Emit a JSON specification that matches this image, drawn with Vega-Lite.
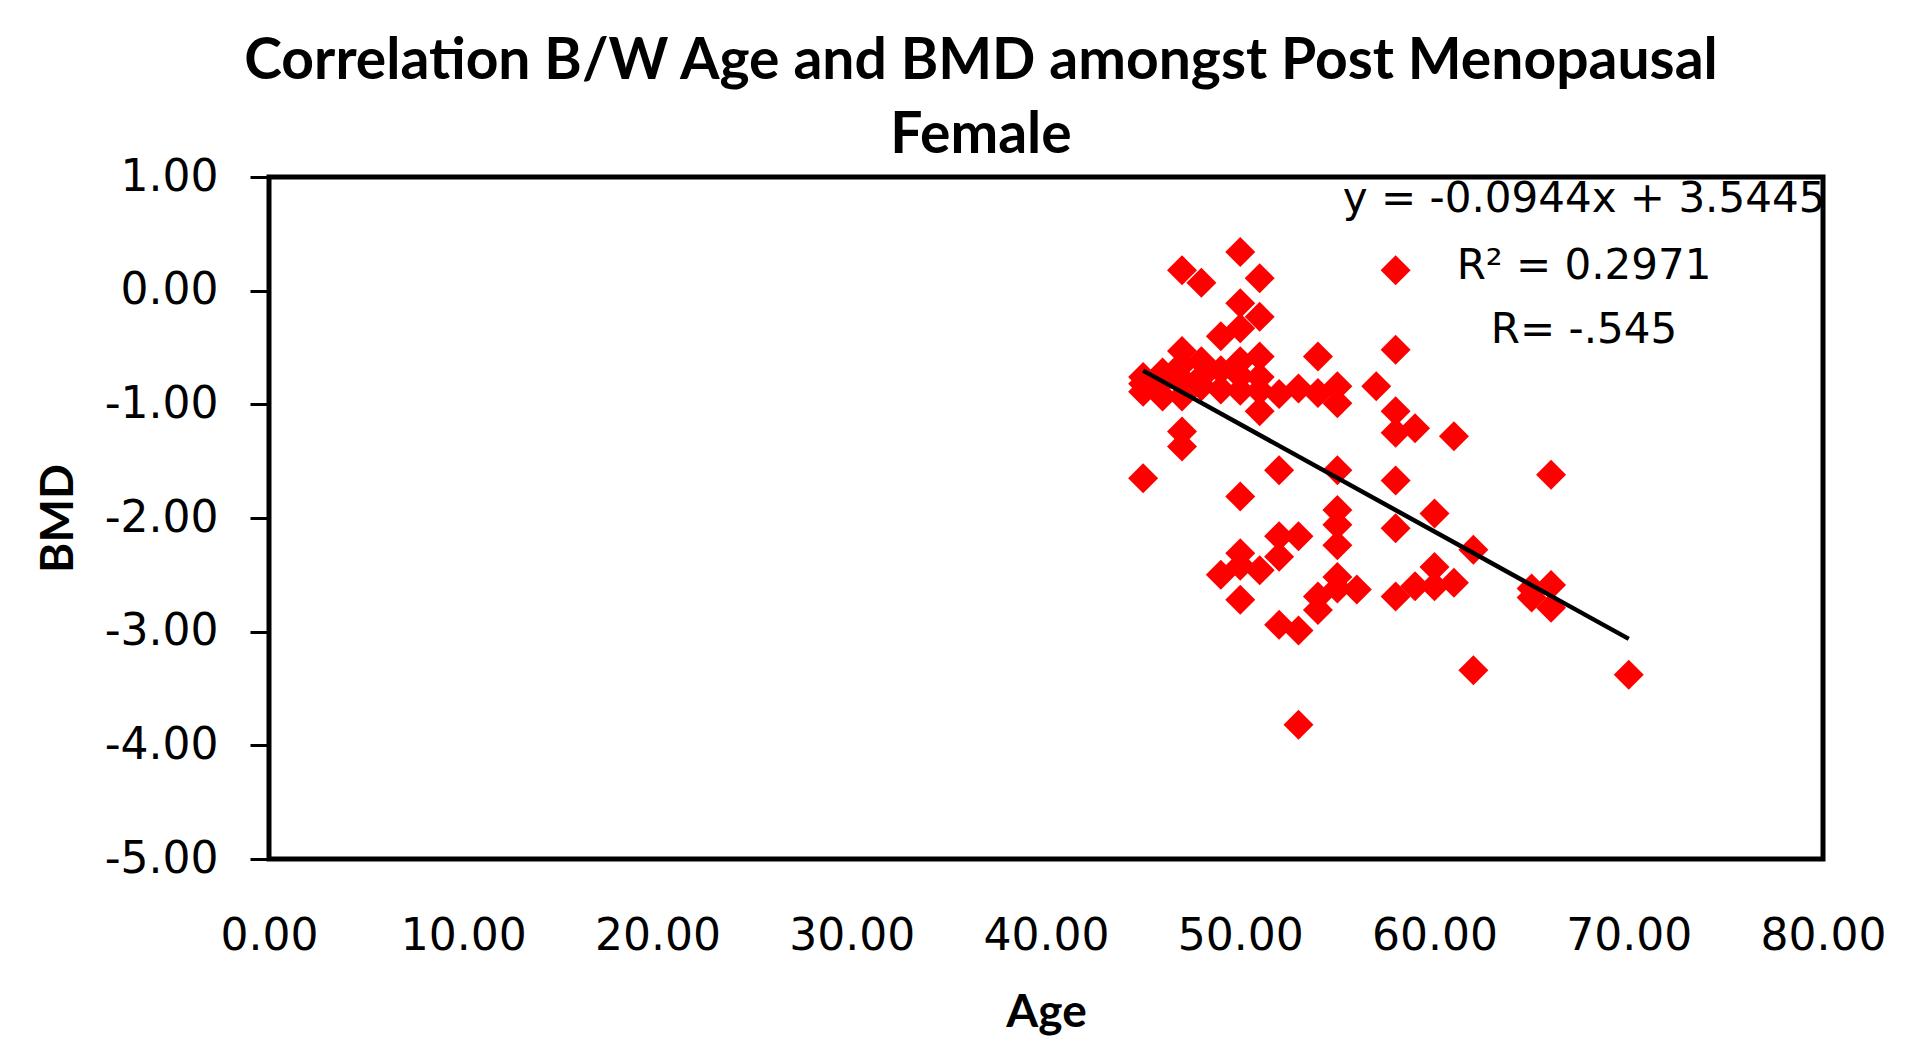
{
  "$schema": "https://vega.github.io/schema/vega-lite/v6.json",
  "autosize": "none",
  "width": 1554,
  "height": 682,
  "padding": {"left": 269, "top": 177, "right": 93, "bottom": 203},
  "background": "white",
  "title": {
    "text": ["Correlation B/W Age and BMD amongst Post Menopausal", "Female"],
    "font": "Lato",
    "fontSize": 57,
    "fontWeight": "bold",
    "color": "black",
    "lineHeight": 74,
    "anchor": "middle",
    "dx": -65,
    "offset": -10
  },
  "datasets": {
    "points": [
      {"Age": 45, "BMD": -1.65}, {"Age": 45, "BMD": -0.76}, {"Age": 45, "BMD": -0.89}, {"Age": 45, "BMD": -0.82},
      {"Age": 46, "BMD": -0.93}, {"Age": 46, "BMD": -0.72}, {"Age": 46, "BMD": -0.80},
      {"Age": 47, "BMD": 0.18}, {"Age": 47, "BMD": -0.53}, {"Age": 47, "BMD": -0.65}, {"Age": 47, "BMD": -0.78},
      {"Age": 47, "BMD": -0.93}, {"Age": 47, "BMD": -1.24}, {"Age": 47, "BMD": -1.37},
      {"Age": 48, "BMD": 0.07}, {"Age": 48, "BMD": -0.62}, {"Age": 48, "BMD": -0.76}, {"Age": 48, "BMD": -0.84},
      {"Age": 49, "BMD": -0.40}, {"Age": 49, "BMD": -0.70}, {"Age": 49, "BMD": -0.87},
      {"Age": 50, "BMD": 0.34}, {"Age": 50, "BMD": -0.11}, {"Age": 50, "BMD": -0.33}, {"Age": 50, "BMD": -0.62},
      {"Age": 50, "BMD": -0.75}, {"Age": 50, "BMD": -0.88},
      {"Age": 51, "BMD": 0.11}, {"Age": 51, "BMD": -0.23}, {"Age": 51, "BMD": -0.58}, {"Age": 51, "BMD": -0.76},
      {"Age": 51, "BMD": -0.88}, {"Age": 51, "BMD": -1.06},
      {"Age": 52, "BMD": -0.91}, {"Age": 53, "BMD": -0.86},
      {"Age": 54, "BMD": -0.58}, {"Age": 54, "BMD": -0.90},
      {"Age": 55, "BMD": -0.84}, {"Age": 55, "BMD": -0.99},
      {"Age": 57, "BMD": -0.84},
      {"Age": 58, "BMD": 0.18}, {"Age": 58, "BMD": -0.52}, {"Age": 58, "BMD": -1.06}, {"Age": 58, "BMD": -1.25},
      {"Age": 59, "BMD": -1.21}, {"Age": 61, "BMD": -1.28}, {"Age": 66, "BMD": -1.62},
      {"Age": 52, "BMD": -1.58}, {"Age": 50, "BMD": -1.81}, {"Age": 55, "BMD": -1.58}, {"Age": 58, "BMD": -1.67},
      {"Age": 55, "BMD": -1.93}, {"Age": 55, "BMD": -2.06}, {"Age": 55, "BMD": -2.24},
      {"Age": 58, "BMD": -2.09}, {"Age": 60, "BMD": -1.96}, {"Age": 62, "BMD": -2.28},
      {"Age": 52, "BMD": -2.16}, {"Age": 53, "BMD": -2.16}, {"Age": 52, "BMD": -2.34},
      {"Age": 50, "BMD": -2.31}, {"Age": 50, "BMD": -2.42}, {"Age": 51, "BMD": -2.46}, {"Age": 49, "BMD": -2.50},
      {"Age": 50, "BMD": -2.72}, {"Age": 52, "BMD": -2.94}, {"Age": 53, "BMD": -2.99}, {"Age": 53, "BMD": -3.82},
      {"Age": 54, "BMD": -2.69}, {"Age": 54, "BMD": -2.81}, {"Age": 55, "BMD": -2.52}, {"Age": 55, "BMD": -2.62},
      {"Age": 56, "BMD": -2.63}, {"Age": 58, "BMD": -2.69}, {"Age": 59, "BMD": -2.60},
      {"Age": 60, "BMD": -2.43}, {"Age": 60, "BMD": -2.60}, {"Age": 61, "BMD": -2.57}, {"Age": 62, "BMD": -3.34},
      {"Age": 65, "BMD": -2.62}, {"Age": 65, "BMD": -2.70}, {"Age": 66, "BMD": -2.59}, {"Age": 66, "BMD": -2.79},
      {"Age": 70, "BMD": -3.38}
    ],
    "trend": [
      {"Age": 45, "BMD": -0.7035},
      {"Age": 70, "BMD": -3.0635}
    ],
    "notes": [
      {"Age": 67.7, "BMD": 0.81, "label": "y = -0.0944x + 3.5445"},
      {"Age": 67.7, "BMD": 0.22, "label": "R² = 0.2971"},
      {"Age": 67.7, "BMD": -0.35, "label": "R= -.545"}
    ]
  },
  "layer": [
    {
      "data": {"name": "points"},
      "mark": {"type": "point", "shape": "diamond", "filled": true, "color": "#ff0000", "opacity": 1, "size": 900},
      "encoding": {
        "x": {"field": "Age", "type": "quantitative"},
        "y": {"field": "BMD", "type": "quantitative"}
      }
    },
    {
      "data": {"name": "trend"},
      "mark": {"type": "line", "color": "black", "strokeWidth": 4.5},
      "encoding": {
        "x": {"field": "Age", "type": "quantitative"},
        "y": {"field": "BMD", "type": "quantitative"}
      }
    },
    {
      "data": {"name": "notes"},
      "mark": {"type": "text", "font": "DejaVu Sans", "fontSize": 42, "color": "black", "align": "center", "baseline": "middle", "clip": true},
      "encoding": {
        "x": {"field": "Age", "type": "quantitative"},
        "y": {"field": "BMD", "type": "quantitative"},
        "text": {"field": "label", "type": "nominal"}
      }
    }
  ],
  "resolve": {"scale": {"x": "shared", "y": "shared"}},
  "encoding": {
    "x": {
      "field": "Age", "type": "quantitative",
      "scale": {"domain": [0, 80], "nice": false, "zero": false},
      "axis": {
        "title": "Age", "values": [0, 10, 20, 30, 40, 50, 60, 70, 80],
        "labelExpr": "format(datum.value, '.2f')",
        "labelFlush": false, "labelOverlap": false, "labelBound": false,
        "ticks": false, "domain": false, "grid": false,
        "labelPadding": 55, "titlePadding": 32
      }
    },
    "y": {
      "field": "BMD", "type": "quantitative",
      "scale": {"domain": [-5, 1], "nice": false, "zero": false},
      "axis": {
        "title": "BMD", "values": [-5, -4, -3, -2, -1, 0, 1],
        "labelExpr": "replace(format(datum.value, '.2f'), '−', '-')",
        "labelFlush": false, "labelOverlap": false,
        "ticks": true, "tickSize": 19, "tickWidth": 3, "tickColor": "black",
        "domain": false, "grid": false,
        "labelPadding": 32, "titlePadding": 22
      }
    }
  },
  "config": {
    "view": {"stroke": "black", "strokeWidth": 5},
    "axis": {
      "labelFont": "DejaVu Sans", "labelFontSize": 44, "labelColor": "black",
      "titleFont": "Lato", "titleFontSize": 46, "titleFontWeight": "bold", "titleColor": "black"
    }
  }
}
